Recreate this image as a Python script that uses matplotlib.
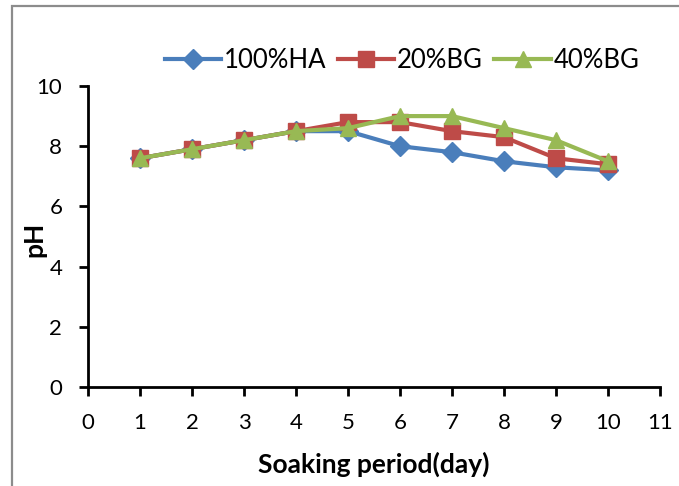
import matplotlib
matplotlib.use("Agg")
import matplotlib.pyplot as plt
from matplotlib.patches import Rectangle

days = [1, 2, 3, 4, 5, 6, 7, 8, 9, 10]
ph_ha100 = [7.6, 7.9, 8.2, 8.5, 8.5, 8.0, 7.8, 7.5, 7.3, 7.2]
ph_bg20 = [7.6, 7.9, 8.2, 8.5, 8.8, 8.8, 8.5, 8.3, 7.6, 7.4]
ph_bg40 = [7.6, 7.9, 8.2, 8.5, 8.6, 9.0, 9.0, 8.6, 8.2, 7.5]
labels = ["100%HA", "20%BG", "40%BG"]

plt.rcParams["font.family"] = ["Lato", "DejaVu Sans"]

fig = plt.figure(figsize=(6.79, 4.86), dpi=100)
ax = fig.add_axes([88 / 679, 1 - 387 / 486, (660 - 88) / 679, (387 - 86) / 486])

ax.plot(days, ph_ha100, color="#4A7EBB", lw=3, marker="D", ms=10, label=labels[0])
ax.plot(days, ph_bg20, color="#BE4B48", lw=3, marker="s", ms=11, label=labels[1])
ax.plot(days, ph_bg40, color="#98B954", lw=3, marker="^", ms=12, label=labels[2])

ax.set_xlim(0, 11)
ax.set_ylim(0, 10)
ax.set_xticks(range(0, 12))
ax.set_yticks(range(0, 11, 2))
for s in ["top", "right"]:
    ax.spines[s].set_visible(False)
for s in ["left", "bottom"]:
    ax.spines[s].set_linewidth(2)
ax.tick_params(direction="out", length=6.5, width=2, labelsize=16, colors="black")
ax.tick_params(axis="x", pad=12)
ax.tick_params(axis="y", pad=12)

ax.set_xlabel("Soaking period(day)", fontsize=19, fontweight="bold")
ax.xaxis.set_label_coords(0.5, -0.215)
ax.set_ylabel("pH", fontsize=19, fontweight="bold")
ax.yaxis.set_label_coords(-0.072, 0.49)

ax.legend(loc="center", bbox_to_anchor=(402 / 679, 1 - 60 / 486),
          bbox_transform=fig.transFigure, ncol=3, frameon=False,
          fontsize=18.5, handlelength=2.2, handletextpad=0.1, columnspacing=0.45)

fig.patches.append(Rectangle((12 / 679, -0.1), 1.2, 1 - 6 / 486 + 0.1,
                             transform=fig.transFigure, fill=False,
                             edgecolor="#8c8c8c", lw=1.6))

fig.savefig("out.png", dpi=100)
